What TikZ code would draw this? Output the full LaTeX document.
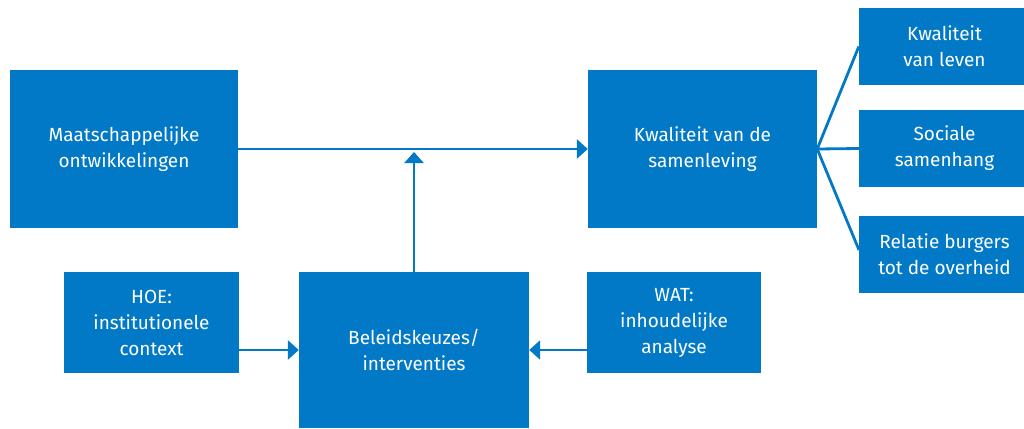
\documentclass[tikz,border=0pt]{standalone}
\usepackage{fontspec}
\setmainfont{Fira Sans}
\usetikzlibrary{arrows.meta}
\definecolor{rblue}{RGB}{1,121,199}
\begin{document}
\begin{tikzpicture}[x=1pt,y=-1pt,
  box/.style={fill=rblue, draw=none, inner sep=0pt, text=white, align=center,
    font=\fontsize{19}{26}\selectfont},
  conn/.style={draw=rblue, line width=2.8pt},
  arr/.style={conn, -{Triangle[width=19pt,length=11pt]}}]
\useasboundingbox (0,0) rectangle (1024,428);
\node[box, minimum width=228, minimum height=158] (m) at (124,149) {Maatschappelijke\\ontwikkelingen};
\node[box, minimum width=229, minimum height=158] (k) at (702.5,149) {Kwaliteit van de\\samenleving};
\node[box, minimum width=165, minimum height=77] (kl) at (941.5,46.5) {\hspace*{6pt}Kwaliteit\\\hspace*{6pt}van leven};
\node[box, minimum width=165, minimum height=77] (ss) at (941.5,148.5) {\hspace*{6pt}Sociale\\\hspace*{6pt}samenhang};
\node[box, minimum width=165, minimum height=77] (rb) at (941.5,254.5) {\hspace*{6pt}Relatie burgers\\\hspace*{6pt}tot de overheid};
\node[box, minimum width=175, minimum height=101] (hoe) at (151.5,322.5) {HOE:\\institutionele\\context};
\node[box, minimum width=230, minimum height=156] (bel) at (414,350) {Beleidskeuzes/\\interventies};
\node[box, minimum width=174, minimum height=101] (wat) at (674,322.5) {WAT:\\inhoudelijke\\analyse};
\coordinate (tipA) at (414,152);
\coordinate (rbin) at (859,250);
\draw[arr] (m.east) -- (k.west);
\draw[arr] (bel.north) -- (tipA);
\draw[arr] (hoe.east |- bel.center) -- (bel.west);
\draw[arr] (wat.west |- bel.center) -- (bel.east);
\draw[conn] (kl.west) -- (k.east) -- (ss.west);
\draw[conn] (k.east) -- (rbin);
\end{tikzpicture}
\end{document}
